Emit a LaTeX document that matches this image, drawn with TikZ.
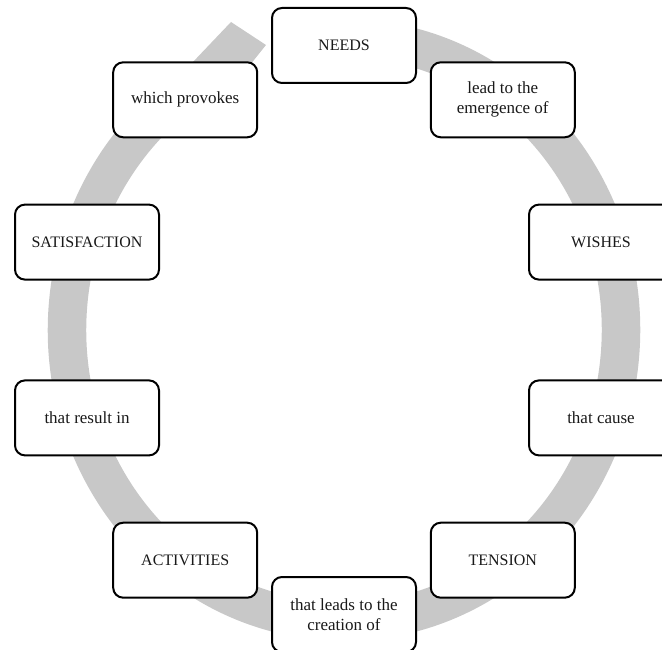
\documentclass[tikz,border=0pt]{standalone}
\usepackage{fontspec}
\setmainfont{Liberation Serif}
\definecolor{ringgray}{RGB}{200,200,200}
\begin{document}
\begin{tikzpicture}[x=1pt,y=1pt,
  box/.style={draw=black, line width=2pt, rounded corners=10pt, fill=white,
    minimum width=144pt, minimum height=75pt, align=center, text=black!90, inner sep=2pt},
  up/.style={box, font=\fontsize{16}{19}\selectfont},
  low/.style={box, font=\fontsize{17}{20}\selectfont}]
\useasboundingbox (0,0) rectangle (662,649);
\clip (0,0) rectangle (662,649);
% circular arrow (slightly elliptical)
\begin{scope}[shift={(344,319)}, yscale=1.053]
  \coordinate (arcstart) at (85:277);
  \draw[ringgray, line width=38.5pt] (arcstart) arc[start angle=85, end angle=-250, radius=277];
\end{scope}
\coordinate (hback) at (192,586);
\coordinate (hwing) at (231,627);
\coordinate (htip)  at (266,604);
\coordinate (hin)   at (250,584);
\coordinate (hbase) at (215,572);
\fill[ringgray] (hback) -- (hwing) -- (htip) -- (hin) -- (hbase) -- cycle;
% nodes
\node[up]  (needs)  at (344,603.5)   {NEEDS};
\node[low] (lead)   at (502.8,549.2) {lead to the\\emergence of};
\node[up]  (wishes) at (601,406.9)   {WISHES};
\node[low] (cause)  at (601,231.1)   {that cause};
\node[up]  (tension) at (502.8,88.8) {TENSION};
\node[low] (leads)  at (344,34.5)    {that leads to the\\creation of};
\node[up]  (activ)  at (185.2,88.8)  {ACTIVITIES};
\node[low] (result) at (87,231.1)    {that result in};
\node[up]  (satis)  at (87,406.9)    {SATISFACTION};
\node[low] (prov)   at (185.2,549.2) {which provokes};
\end{tikzpicture}
\end{document}
